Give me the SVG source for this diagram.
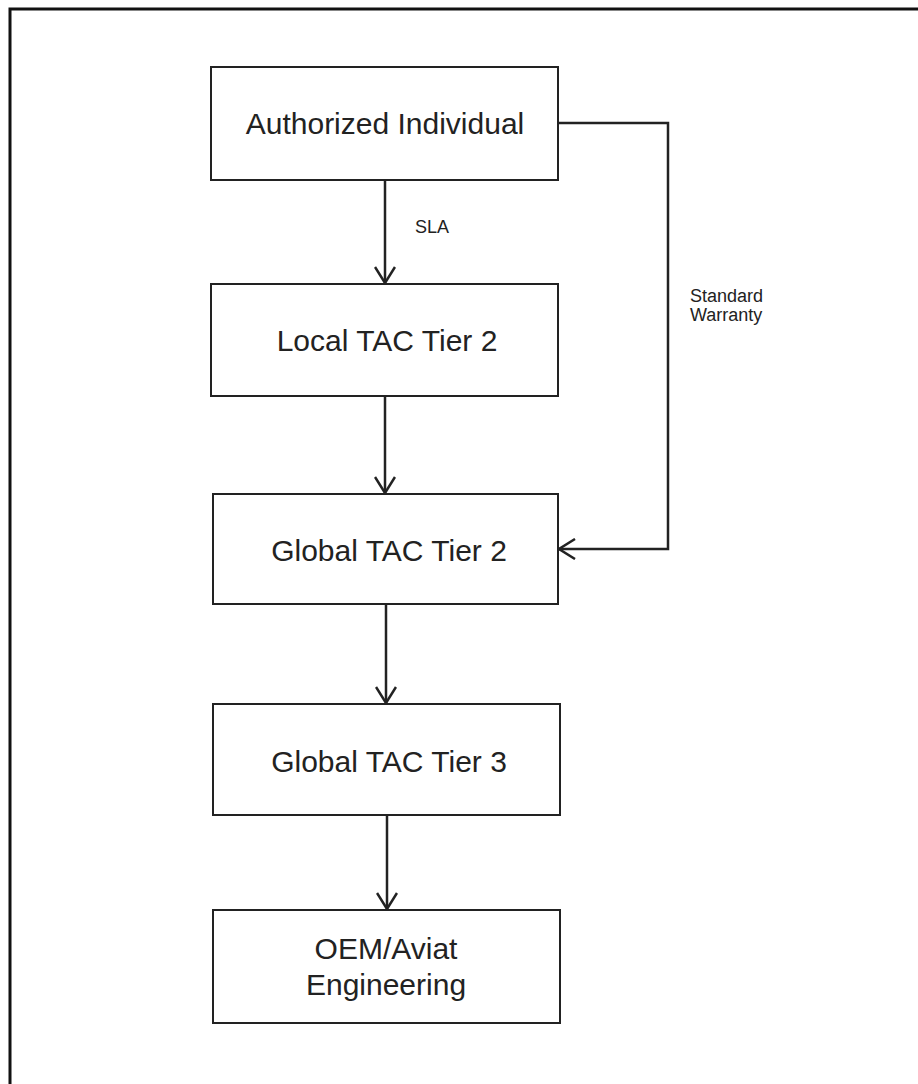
<svg xmlns="http://www.w3.org/2000/svg" width="918" height="1084" viewBox="0 0 918 1084">
<defs>
<style>
.box{fill:#fff;stroke:#222;stroke-width:2}
.t{font-family:"Liberation Sans",Arial,sans-serif;font-size:30px;fill:#222;text-anchor:middle}
.lbl{font-family:"Liberation Sans",Arial,sans-serif;font-size:18px;fill:#222}
.c{fill:none;stroke:#222;stroke-width:2.5}
</style>
<marker id="ah" viewBox="0 0 20 22" refX="18" refY="11" markerWidth="20" markerHeight="22" markerUnits="userSpaceOnUse" orient="auto">
<path d="M2,1 L18,11 L2,21" fill="none" stroke="#222" stroke-width="2.5"/>
</marker>
</defs>
<rect width="918" height="1084" fill="#fff"/>
<rect x="10" y="9" width="940" height="1110" fill="none" stroke="#111" stroke-width="3"/>
<g id="connectors">
<line class="c" x1="385" y1="180" x2="385" y2="283" marker-end="url(#ah)"/>
<line class="c" x1="385" y1="396" x2="385" y2="493" marker-end="url(#ah)"/>
<line class="c" x1="386" y1="604" x2="386" y2="703" marker-end="url(#ah)"/>
<line class="c" x1="387" y1="815" x2="387" y2="909" marker-end="url(#ah)"/>
<polyline class="c" points="558,123 668,123 668,549 559,549" marker-end="url(#ah)"/>
<text class="lbl" x="415" y="233">SLA</text>
<text class="lbl" x="690" y="302">Standard</text>
<text class="lbl" x="690" y="321">Warranty</text>
</g>
<g id="n1"><rect class="box" x="211" y="67" width="347" height="113"/><text class="t" x="385" y="134">Authorized Individual</text></g>
<g id="n2"><rect class="box" x="211" y="284" width="347" height="112"/><text class="t" x="387" y="351">Local TAC Tier 2</text></g>
<g id="n3"><rect class="box" x="213" y="494" width="345" height="110"/><text class="t" x="389" y="561">Global TAC Tier 2</text></g>
<g id="n4"><rect class="box" x="213" y="704" width="347" height="111"/><text class="t" x="389" y="772">Global TAC Tier 3</text></g>
<g id="n5"><rect class="box" x="213" y="910" width="347" height="113"/><text class="t" x="386" y="959">OEM/Aviat</text><text class="t" x="386" y="995">Engineering</text></g>
</svg>
